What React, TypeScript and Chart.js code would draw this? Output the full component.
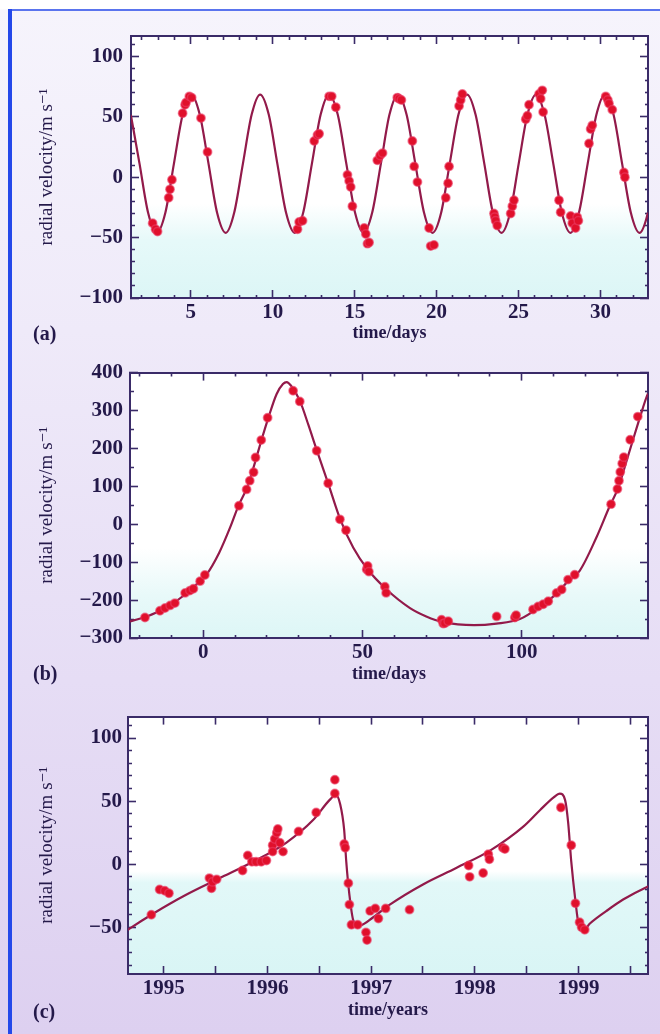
import React, { useEffect, useRef } from 'react';
import { Chart, registerables } from 'chart.js';

Chart.register(...registerables);

// ================= DATA =================
// ---- Panel (a): time in days ----
const aFitDays = [1.34, 1.87, 2.39, 2.92, 3.45, 3.97, 4.5, 5.02, 5.55, 6.08, 6.6, 7.13, 7.65, 8.18, 8.71, 9.23, 9.76, 10.28, 10.81, 11.34, 11.86, 12.39, 12.92, 13.44, 13.97, 14.49, 15.02, 15.54, 16.07, 16.6, 17.12, 17.65, 18.17, 18.7, 19.23, 19.75, 20.28, 20.8, 21.33, 21.86, 22.38, 22.91, 23.43, 23.96, 24.49, 25.01, 25.54, 26.06, 26.59, 27.12, 27.64, 28.17, 28.69, 29.22, 29.75, 30.27, 30.8, 31.32, 31.85, 32.38, 32.9, 33.43];
const aFitVel = [51.7, 11.3, -29.2, -46, -29.2, 11.3, 51.7, 68.5, 51.7, 11.3, -29.2, -46, -29.2, 11.3, 51.7, 68.5, 51.7, 11.3, -29.2, -46, -29.2, 11.3, 51.7, 68.5, 51.7, 11.3, -29.2, -46, -29.2, 11.3, 51.7, 68.5, 51.7, 11.3, -29.2, -46, -29.2, 11.3, 51.7, 68.5, 51.7, 11.3, -29.2, -46, -29.2, 11.3, 51.7, 68.5, 51.7, 11.3, -29.2, -46, -29.2, 11.3, 51.7, 68.5, 51.7, 11.3, -29.2, -46, -29.2, 11.3];
const aObsDays = [2.67, 2.85, 2.97, 3.65, 3.73, 3.85, 4.5, 4.65, 4.71, 4.91, 5.05, 5.62, 6.02, 11.51, 11.61, 11.82, 12.53, 12.73, 12.83, 13.44, 13.6, 13.85, 14.56, 14.66, 14.76, 14.86, 15.58, 15.68, 15.78, 15.88, 16.38, 16.55, 16.7, 17.6, 17.71, 17.85, 18.52, 18.63, 18.83, 19.54, 19.64, 19.84, 20.56, 20.7, 20.76, 21.37, 21.47, 21.57, 23.5, 23.55, 23.6, 23.7, 24.52, 24.62, 24.72, 25.44, 25.54, 25.64, 26.25, 26.35, 26.45, 26.5, 27.47, 27.57, 28.18, 28.28, 28.48, 28.58, 28.65, 29.3, 29.4, 29.5, 30.32, 30.45, 30.52, 30.72, 31.43, 31.49];
const aObsVel = [-38, -43, -45, -17, -10, -2, 53, 60, 62, 67, 66, 49, 21, -43, -37, -36, 30, 35, 36, 67, 67, 58, 2, -3, -8, -24, -42, -47, -55, -54, 14, 18, 20, 66, 65, 64, 30, 9, -4, -42, -57, -56, -17, -5, 9, 59, 64, 69, -30, -33, -36, -40, -30, -24, -19, 48, 51, 60, 69, 65, 72, 54, -19, -29, -32, -38, -42, -33, -36, 28, 40, 43, 67, 64, 61, 56, 4, 0];
const aXTickValues = [5, 10, 15, 20, 25, 30];
const aXTickLabels = ['5', '10', '15', '20', '25', '30'];
const aYTickValues = [-100, -50, 0, 50, 100];
const aYTickLabels = ['\u2212100', '\u221250', '0', '50', '100'];

// ---- Panel (b): time in days ----
const bFitDays = [-26, -23, -18, -13.6, -10.4, -5, -1, 1, 5, 8.4, 11, 14, 16.2, 18.3, 20.4, 23, 25, 26.2, 27.5, 30.3, 33, 35.6, 39.2, 43, 47.1, 51.5, 57.3, 64.9, 70, 75.3, 85, 92, 99.4, 105.6, 110.9, 114.5, 118.2, 123.4, 127.6, 130.2, 132.8, 134.9, 137, 139.6, 141.6];
const bFitVel = [-262, -256, -244, -228, -214, -180, -150, -133, -75, -9, 48, 102, 162, 223, 280, 343, 370, 375, 366, 326, 262, 196, 108, 13, -62, -118, -170, -221, -243, -258, -266, -262, -250, -218, -183, -150, -122, -35, 48, 95, 165, 223, 280, 345, 370];
const bObsDays = [-18.3, -13.6, -12, -10.4, -8.9, -5.7, -4.2, -3.1, -1, 0.5, 11.2, 13.6, 14.6, 15.8, 16.4, 18.2, 20.2, 28.2, 30.3, 35.6, 39.2, 42.9, 44.8, 51.3, 51.6, 52, 57, 57.4, 74.8, 75.3, 75.8, 76.9, 92.1, 97.8, 98.2, 103.5, 105.1, 106.7, 108.3, 110.9, 112.5, 114.5, 116.6, 128, 130, 130.5, 130.9, 131.5, 132, 134, 136.4];
const bObsVel = [-246, -228, -221, -214, -208, -181, -175, -170, -150, -134, 49, 92, 115, 137, 176, 222, 281, 352, 324, 194, 108, 13, -16, -119, -110, -125, -165, -181, -252, -262, -261, -256, -243, -246, -240, -225, -217, -211, -203, -181, -172, -146, -133, 53, 93, 115, 138, 160, 177, 223, 284];
const bXTickValues = [0, 50, 100];
const bXTickLabels = ['0', '50', '100'];
const bYTickValues = [-300, -200, -100, 0, 100, 200, 300, 400];
const bYTickLabels = ['\u2212300', '\u2212200', '\u2212100', '0', '100', '200', '300', '400'];

// ---- Panel (c): time in years ----
const cFitYears = [1994.6, 1994.67, 1994.9, 1995.22, 1995.54, 1995.86, 1996.18, 1996.44, 1996.6, 1996.66, 1996.7, 1996.74, 1996.76, 1996.79, 1996.83, 1996.89, 1997.02, 1997.18, 1997.5, 1997.82, 1998.15, 1998.47, 1998.63, 1998.76, 1998.82, 1998.87, 1998.9, 1998.93, 1998.97, 1999.0, 1999.05, 1999.11, 1999.27, 1999.43, 1999.66, 1999.75];
const cFitVel = [-55, -51, -39, -24, -11, 2, 17, 35, 51, 55, 48, 27, 2, -24, -45, -48.5, -42, -32, -16, -3, 11, 30, 43, 53, 56, 51, 33, 2, -29, -47, -52, -47, -37, -28, -18, -15];
const cObsYears = [1994.88, 1994.96, 1995.01, 1995.05, 1995.44, 1995.46, 1995.47, 1995.51, 1995.76, 1995.81, 1995.85, 1995.89, 1995.94, 1995.99, 1996.05, 1996.05, 1996.07, 1996.09, 1996.1, 1996.12, 1996.15, 1996.3, 1996.47, 1996.65, 1996.65, 1996.74, 1996.75, 1996.78, 1996.79, 1996.81, 1996.87, 1996.95, 1996.96, 1996.99, 1997.04, 1997.07, 1997.14, 1997.37, 1997.94, 1997.95, 1998.08, 1998.13, 1998.14, 1998.27, 1998.29, 1998.83, 1998.93, 1998.97, 1999.01, 1999.03, 1999.06];
const cObsVel = [-40, -20, -21, -23, -11, -19, -14, -12, -5, 7, 2, 2, 2, 3, 15, 10, 20, 25, 28, 17, 10, 26, 41, 67, 56, 16, 13, -15, -32, -48, -48, -54, -60, -37, -35, -43, -35, -36, -1, -10, -7, 8, 4, 13, 12, 45, 15, -31, -46, -50, -52];
const cXTickValues = [1995, 1996, 1997, 1998, 1999];
const cXTickLabels = ['1995', '1996', '1997', '1998', '1999'];
const cYTickValues = [-50, 0, 50, 100];
const cYTickLabels = ['\u221250', '0', '50', '100'];

const yTitle = 'radial velocity/m s\u207B\u00B9';

// ================= STYLE =================
const SERIF = "'Liberation Serif', 'DejaVu Serif', 'Times New Roman', serif";
const FRAME = '#3a2b68';
const TEXT = '#24194a';
const LINE = '#921a4a';
const DOT = '#e0102b';
const DOT_EDGE = 'rgba(235,60,100,0.6)';
const MAJOR = 8;
const MINOR = 4;

const panels = [
  {
    key: 'a', top: 0, h: 345, area: { left: 131, right: 648, top: 36, bottom: 298 },
    fitX: aFitDays, fitY: aFitVel, obsX: aObsDays, obsY: aObsVel,
    xMin: 1.35, xMax: 32.9, xStep: 1, xTicks: aXTickValues, xLabels: aXTickLabels, xAllLong: false,
    yMin: -100, yMax: 117, yStep: 10, yTicks: aYTickValues, yLabels: aYTickLabels,
    xTitle: 'time/days', xTitlePad: 1, yLabelPad: 16, tag: '(a)', tagY: 333,
    fill: [[0, '#ffffff'], [0.64, '#ffffff'], [0.78, '#e6f9f9'], [1, '#dcf6f6']],
  },
  {
    key: 'b', top: 345, h: 345, area: { left: 130, right: 648, top: 27, bottom: 293 },
    fitX: bFitDays, fitY: bFitVel, obsX: bObsDays, obsY: bObsVel,
    xMin: -23, xMax: 139.6, xStep: 10, xTicks: bXTickValues, xLabels: bXTickLabels, xAllLong: false,
    yMin: -300, yMax: 400, yStep: 50, yTicks: bYTickValues, yLabels: bYTickLabels,
    xTitle: 'time/days', xTitlePad: 5, yLabelPad: 15, tag: '(b)', tagY: 673,
    fill: [[0, '#ffffff'], [0.66, '#ffffff'], [0.84, '#e8f9f9'], [1, '#ddf6f6']],
  },
  {
    key: 'c', top: 690, h: 344, area: { left: 128, right: 648, top: 21, bottom: 284 },
    fitX: cFitYears, fitY: cFitVel, obsX: cObsYears, obsY: cObsVel,
    xMin: 1994.655, xMax: 1999.67, xStep: 0.5, xTicks: cXTickValues, xLabels: cXTickLabels, xAllLong: true,
    yMin: -87, yMax: 117, yStep: 10, yTicks: cYTickValues, yLabels: cYTickLabels,
    xTitle: 'time/years', xTitlePad: 13, yLabelPad: 14, tag: '(c)', tagY: 1011,
    fill: [[0, '#ffffff'], [0.6, '#ffffff'], [0.645, '#e2f8f8'], [1, '#d9f5f5']],
  },
];

const idxOf = (arr: number[], v: number) => arr.findIndex((a) => Math.abs(a - v) < 1e-6);

function makePlotFill(stops: any[]) {
  return {
    id: 'plotFill',
    beforeDraw(chart: any) {
      const { ctx, chartArea: a } = chart;
      if (!a) return;
      const g = ctx.createLinearGradient(0, a.top, 0, a.bottom);
      stops.forEach((st) => g.addColorStop(st[0], st[1]));
      ctx.save();
      ctx.fillStyle = g;
      ctx.fillRect(a.left, a.top, a.right - a.left, a.bottom - a.top);
      ctx.restore();
    },
  };
}

function buildConfig(s: any) {
  const tickFont = { family: SERIF, size: 21, weight: 'bold' as const };
  const longX = (v: number) => s.xAllLong || idxOf(s.xTicks, v) >= 0;
  const longY = (v: number) => idxOf(s.yTicks, v) >= 0;
  const dash = (isLong: boolean, fromBorder: boolean) =>
    isLong ? [] : fromBorder ? [MINOR, 100] : [0, MAJOR - MINOR, MINOR, 100];
  const gridBase = {
    display: true, drawOnChartArea: false, drawTicks: true,
    tickLength: -MAJOR, tickWidth: 1.6, tickColor: FRAME,
  };
  const border = { display: true, color: FRAME, width: 2 };
  const xTicksBase = { stepSize: s.xStep, autoSkip: false, includeBounds: false, maxTicksLimit: 1000, maxRotation: 0, minRotation: 0 };
  const yTicksBase = { stepSize: s.yStep, autoSkip: false, includeBounds: false, maxTicksLimit: 1000 };

  return {
    type: 'scatter' as const,
    data: {
      datasets: [
        {
          label: 'observed',
          data: s.obsX.map((x: number, i: number) => ({ x, y: s.obsY[i] })),
          showLine: false,
          pointRadius: 4.2,
          pointBackgroundColor: DOT,
          pointBorderColor: DOT_EDGE,
          pointBorderWidth: 1.5,
          order: 0,
        },
        {
          label: 'fit',
          data: s.fitX.map((x: number, i: number) => ({ x, y: s.fitY[i] })),
          showLine: true,
          borderColor: LINE,
          borderWidth: 2.2,
          pointRadius: 0,
          cubicInterpolationMode: 'monotone' as const,
          fill: false,
          order: 1,
        },
      ],
    },
    options: {
      responsive: false,
      animation: false as const,
      events: [],
      layout: { padding: { left: 0, right: 660 - s.area.right, top: s.area.top, bottom: 0 } },
      plugins: { legend: { display: false }, tooltip: { enabled: false } },
      scales: {
        x: {
          type: 'linear' as const, position: 'bottom' as const, min: s.xMin, max: s.xMax,
          afterFit: (sc: any) => { sc.height = s.h - s.area.bottom; },
          border,
          grid: { ...gridBase, tickBorderDash: (c: any) => (c.tick ? dash(longX(c.tick.value), true) : []) },
          ticks: {
            ...xTicksBase, display: true, padding: 9.5, color: TEXT, font: tickFont,
            callback: (v: any) => { const i = idxOf(s.xTicks, Number(v)); return i >= 0 ? s.xLabels[i] : ''; },
          },
          title: {
            display: true, text: s.xTitle, color: TEXT,
            font: { family: SERIF, size: 18, weight: 'bold' as const },
            padding: { top: 0, bottom: s.xTitlePad },
          },
        },
        xTop: {
          type: 'linear' as const, position: 'top' as const, min: s.xMin, max: s.xMax,
          afterFit: (sc: any) => { sc.height = 0; },
          border,
          grid: { ...gridBase, tickBorderDash: (c: any) => (c.tick ? dash(longX(c.tick.value), false) : []) },
          ticks: { ...xTicksBase, display: false },
        },
        y: {
          type: 'linear' as const, position: 'left' as const, min: s.yMin, max: s.yMax,
          afterFit: (sc: any) => { sc.width = s.area.left; },
          border,
          grid: { ...gridBase, tickBorderDash: (c: any) => (c.tick ? dash(longY(c.tick.value), false) : []) },
          ticks: {
            ...yTicksBase, display: true, padding: s.yLabelPad, color: TEXT, font: tickFont,
            callback: (v: any) => { const i = idxOf(s.yTicks, Number(v)); return i >= 0 ? s.yLabels[i] : ''; },
          },
          title: {
            display: true, text: yTitle, color: TEXT,
            font: { family: SERIF, size: 19, weight: 'normal' as const },
            padding: { top: 36, bottom: 0 },
          },
        },
        yRight: {
          type: 'linear' as const, position: 'right' as const, min: s.yMin, max: s.yMax,
          afterFit: (sc: any) => { sc.width = 0; },
          border,
          grid: { ...gridBase, tickBorderDash: (c: any) => (c.tick ? dash(longY(c.tick.value), true) : []) },
          ticks: { ...yTicksBase, display: false },
        },
      },
    },
    plugins: [makePlotFill(s.fill)],
  };
}

function Panel({ spec }: { spec: any }) {
  const ref = useRef<HTMLCanvasElement | null>(null);
  useEffect(() => {
    if (!ref.current) return;
    const chart = new Chart(ref.current, buildConfig(spec) as any);
    return () => chart.destroy();
  }, [spec]);
  return (
    <canvas
      ref={ref}
      width={660}
      height={spec.h}
      style={{ position: 'absolute', left: 0, top: spec.top, width: 660, height: spec.h }}
    />
  );
}

export default function App() {
  return (
    <div
      style={{
        position: 'absolute', left: 0, top: 0, width: 660, height: 1034, overflow: 'hidden',
        background: 'linear-gradient(180deg, #ffffff 0px, #ffffff 9px, #f6f4fc 10px, #efeaf9 330px, #e6ddf5 680px, #ddd0f0 1034px)',
      }}
    >
      <div style={{ position: 'absolute', left: 8, top: 9, width: 652, height: 2, background: '#5a74ee' }} />
      <div style={{ position: 'absolute', left: 8, top: 9, width: 4, height: 1025, background: '#2448ea' }} />
      {panels.map((p) => (
        <Panel key={p.key} spec={p} />
      ))}
      {panels.map((p) => (
        <div
          key={'tag' + p.key}
          style={{
            position: 'absolute', left: 33, top: p.tagY - 12, height: 24, lineHeight: '24px',
            fontFamily: SERIF, fontWeight: 'bold', fontSize: 20, color: TEXT,
          }}
        >
          {p.tag}
        </div>
      ))}
    </div>
  );
}
